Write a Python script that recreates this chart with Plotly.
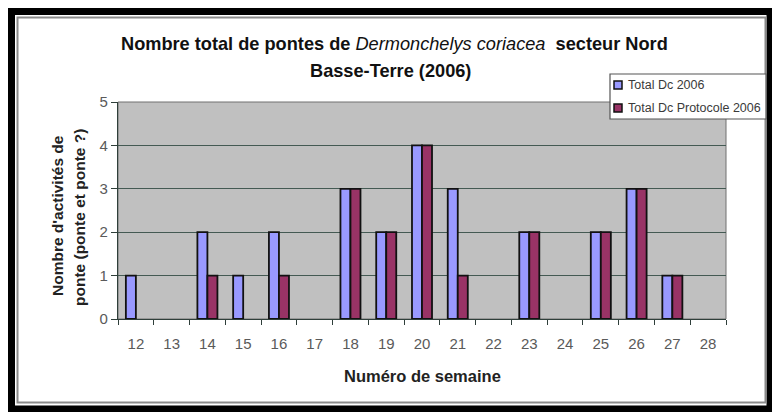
import plotly.graph_objects as go

weeks = ["12", "13", "14", "15", "16", "17", "18", "19", "20", "21", "22", "23", "24", "25", "26", "27", "28"]
total_dc_2006 = [1, 0, 2, 1, 2, 0, 3, 2, 4, 3, 0, 2, 0, 2, 3, 1, 0]
total_dc_protocole_2006 = [0, 0, 1, 0, 1, 0, 3, 2, 4, 1, 0, 2, 0, 2, 3, 1, 0]
series_names = ["Total Dc 2006", "Total Dc Protocole 2006"]
series_colors = ["#9999ff", "#993366"]

W, H = 772, 412
L, R, T, B = 118, 726, 102, 319


def px(x):
    return (x - L) / (R - L)


def py(y):
    return (B - y) / (B - T)


fig = go.Figure()
for name, vals, col in zip(series_names, [total_dc_2006, total_dc_protocole_2006], series_colors):
    fig.add_trace(go.Bar(
        x=weeks, y=vals, name=name,
        marker=dict(color=col,
                    line=dict(color="#111111", width=[1.8 if v > 0 else 0 for v in vals])),
        showlegend=False,
    ))

shapes = []
# outer black frame
shapes.append(dict(type="rect", xref="paper", yref="paper",
                   x0=px(11.5), x1=px(770), y0=py(11.5), y1=py(409),
                   line=dict(color="#000000", width=7), fillcolor="rgba(0,0,0,0)", layer="below"))
# inner chart area border
shapes.append(dict(type="rect", xref="paper", yref="paper",
                   x0=px(17.5), x1=px(765.5), y0=py(17.5), y1=py(402.5),
                   line=dict(color="#8a8a8a", width=2), fillcolor="rgba(0,0,0,0)", layer="below"))
# plot area border
shapes.append(dict(type="rect", xref="paper", yref="paper",
                   x0=0, x1=1, y0=0, y1=1,
                   line=dict(color="#707070", width=1), fillcolor="rgba(0,0,0,0)", layer="below"))
# legend box
shapes.append(dict(type="rect", xref="paper", yref="paper",
                   x0=px(610), x1=px(766), y0=py(74), y1=py(119),
                   line=dict(color="#555555", width=1.2), fillcolor="#ffffff", layer="above"))
leg_y = [85, 108]
for yy, col in zip(leg_y, series_colors):
    shapes.append(dict(type="rect", xref="paper", yref="paper",
                       x0=px(614), x1=px(622), y0=py(yy - 4), y1=py(yy + 4),
                       line=dict(color="#111111", width=1.5), fillcolor=col, layer="above"))

annotations = []
for yy, name in zip(leg_y, series_names):
    annotations.append(dict(xref="paper", yref="paper", x=px(626), y=py(yy),
                            xanchor="left", yanchor="middle", showarrow=False,
                            text=name, font=dict(family="Liberation Sans", size=12.5, color="#3a3a3a")))

title_font = dict(family="Liberation Sans", size=18.2, color="#111111")
annotations.append(dict(xref="paper", yref="paper", x=px(394), y=py(44),
                        xanchor="center", yanchor="middle", showarrow=False,
                        text="<b>Nombre total de pontes de </b><i>Dermonchelys coriacea</i><b>  secteur Nord</b>",
                        font=title_font))
annotations.append(dict(xref="paper", yref="paper", x=px(390), y=py(71),
                        xanchor="center", yanchor="middle", showarrow=False,
                        text="<b>Basse-Terre (2006)</b>", font=title_font))

ytitle_font = dict(family="Liberation Sans", size=15.5, color="#222222")
annotations.append(dict(xref="paper", yref="paper", x=px(57), y=py(215),
                        xanchor="center", yanchor="middle", showarrow=False, textangle=-90,
                        text="<b>Nombre d'activités de</b>", font=ytitle_font))
annotations.append(dict(xref="paper", yref="paper", x=px(79), y=py(218),
                        xanchor="center", yanchor="middle", showarrow=False, textangle=-90,
                        text="<b>ponte (ponte et ponte ?)</b>", font=ytitle_font))
annotations.append(dict(xref="paper", yref="paper", x=px(422), y=py(376),
                        xanchor="center", yanchor="middle", showarrow=False,
                        text="<b>Numéro de semaine</b>",
                        font=dict(family="Liberation Sans", size=16.5, color="#222222")))

fig.update_layout(
    width=W, height=H,
    margin=dict(l=L, r=W - R, t=T, b=H - B, pad=0),
    paper_bgcolor="#ffffff",
    plot_bgcolor="#c0c0c0",
    barmode="group",
    bargap=0.44,
    bargroupgap=0,
    shapes=shapes,
    annotations=annotations,
    showlegend=False,
    xaxis=dict(
        type="category", categoryorder="array", categoryarray=weeks,
        showgrid=False, showline=True, linecolor="#2f3f3a", linewidth=1.2,
        ticks="outside", tickson="boundaries", ticklen=5, tickcolor="#2f3f3a",
        ticklabelstandoff=11,
        tickfont=dict(family="Liberation Sans", size=15, color="#5a5a5a"),
        zeroline=False,
    ),
    yaxis=dict(
        range=[0, 5], dtick=1, tick0=0,
        showgrid=True, gridcolor="#445a53", gridwidth=1,
        showline=True, linecolor="#2f3f3a", linewidth=1.2,
        ticks="outside", ticklen=6, tickcolor="#2f3f3a",
        tickfont=dict(family="Liberation Sans", size=15, color="#5a5a5a"),
        zeroline=False,
    ),
)

fig.write_html("out.html",
               config={"displayModeBar": False},
               post_script="document.body.style.margin='0';document.body.style.overflow='hidden';")
